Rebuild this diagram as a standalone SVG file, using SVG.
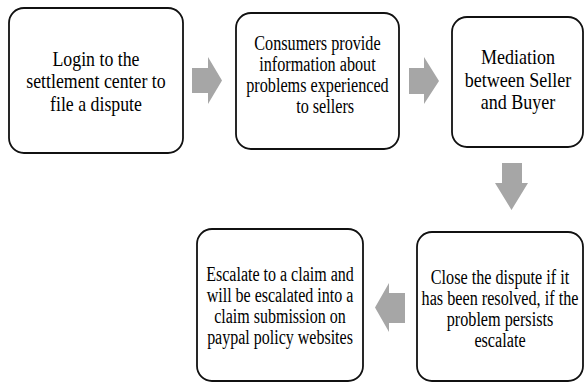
<svg xmlns="http://www.w3.org/2000/svg" width="585" height="382" viewBox="0 0 585 382">
<style>
.box{fill:#fff;stroke:#111;stroke-width:1.8}
.arr{fill:#a6a6a6;stroke:none}
.t{font-family:'Liberation Serif','Times New Roman','DejaVu Serif',serif;fill:#000;text-anchor:middle}
.big{font-size:22px}
.mid{font-size:20px}
</style>
<rect width="585" height="382" fill="#fff"/>
<g id="connectors">
<polygon class="arr" points="192,68 208,68 208,57 222,80.5 208,104 208,93 192,93"/>
<polygon class="arr" points="409,68 424,68 424,57 439,81 424,104 424,94 409,94"/>
<polygon class="arr" points="502,163 522,163 522,183 528,183 511.5,210 495,183 502,183"/>
<polygon class="arr" points="405,293 389,293 389,283 375,307.5 389,332 389,323 405,323"/>
</g>
<g id="node1">
<rect class="box" x="9" y="8" width="174" height="145" rx="15"/>
<g class="t big" transform="matrix(0.81,0,0,1,18.24,0)">
<text x="96" y="66">Login to the</text>
<text x="96" y="88.5">settlement center to</text>
<text x="96" y="111">file a dispute</text>
</g>
</g>
<g id="node2">
<rect class="box" x="236" y="13" width="163" height="136" rx="15"/>
<g class="t mid" transform="matrix(0.81,0,0,1,60.3,0)">
<text x="317.5" y="50">Consumers provide</text>
<text x="317.5" y="71">information about</text>
<text x="317.5" y="92">problems experienced</text>
<text x="327" y="113">to sellers</text>
</g>
</g>
<g id="node3">
<rect class="box" x="452" y="17" width="131" height="130" rx="15"/>
<g class="t big" transform="matrix(0.82,0,0,1,93.24,0)">
<text x="518" y="64">Mediation</text>
<text x="518" y="87">between Seller</text>
<text x="518" y="109">and Buyer</text>
</g>
</g>
<g id="node4">
<rect class="box" x="197" y="229" width="166" height="152" rx="15"/>
<g class="t mid" transform="matrix(0.8,0,0,1,56,0)">
<text x="280" y="281">Escalate to a claim and</text>
<text x="280" y="302">will be escalated into a</text>
<text x="280" y="323">claim submission on</text>
<text x="280" y="344">paypal policy websites</text>
</g>
</g>
<g id="node5">
<rect class="box" x="417" y="232" width="166" height="149" rx="15"/>
<g class="t mid" transform="matrix(0.81,0,0,1,95,0)">
<text x="500" y="284">Close the dispute if it</text>
<text x="500" y="305">has been resolved, if the</text>
<text x="500" y="326">problem persists</text>
<text x="500" y="347">escalate</text>
</g>
</g>
</svg>
